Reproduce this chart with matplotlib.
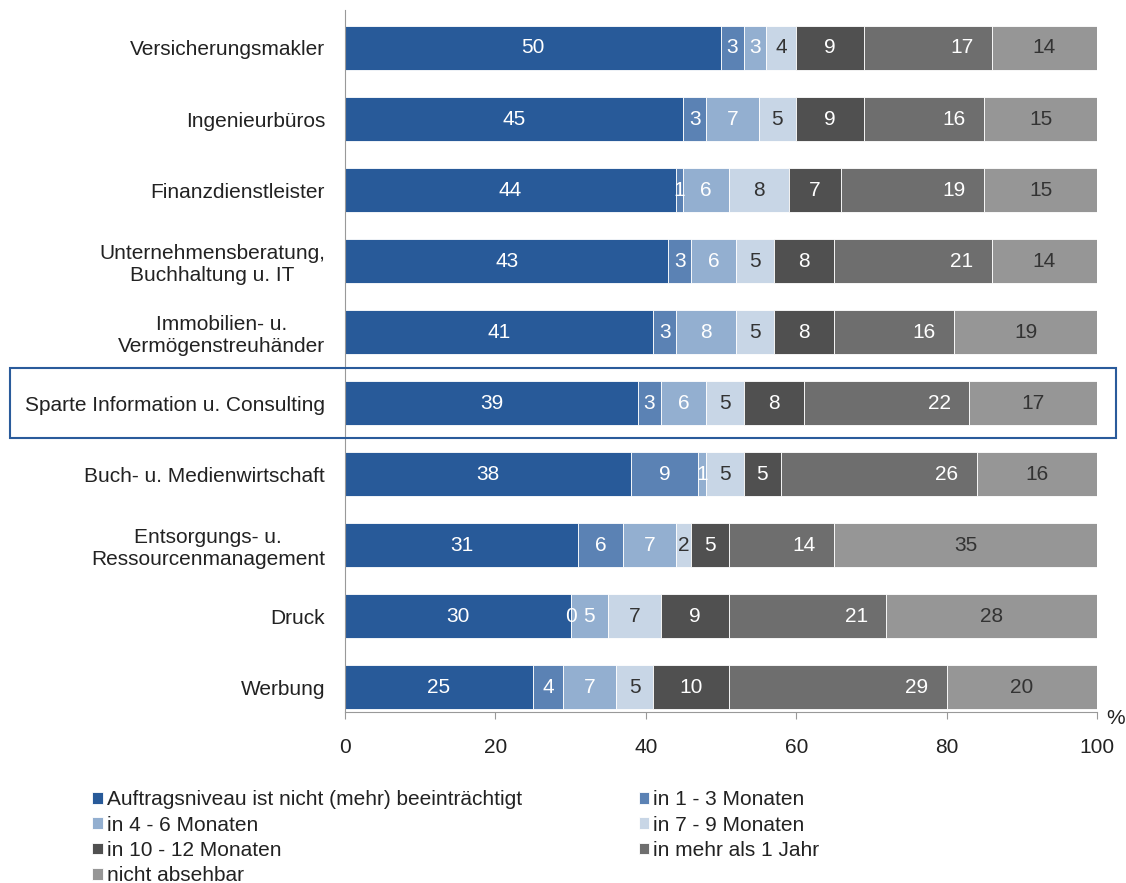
import matplotlib.pyplot as plt
from matplotlib.patches import Rectangle

# Daten ------------------------------------------------
kategorien = ['Versicherungsmakler', 'Ingenieurbüros', 'Finanzdienstleister',
              'Unternehmensberatung,\nBuchhaltung u. IT',
              'Immobilien- u.\nVermögenstreuhänder',
              'Sparte Information u. Consulting',
              'Buch- u. Medienwirtschaft',
              'Entsorgungs- u.\nRessourcenmanagement',
              'Druck', 'Werbung']

nicht_beeintraechtigt = [50, 45, 44, 43, 41, 39, 38, 31, 30, 25]
m1_3 = [3, 3, 1, 3, 3, 3, 9, 6, 0, 4]
m4_6 = [3, 7, 6, 6, 8, 6, 1, 7, 5, 7]
m7_9 = [4, 5, 8, 5, 5, 5, 5, 2, 7, 5]
m10_12 = [9, 9, 7, 8, 8, 8, 5, 5, 9, 10]
mehr_1_jahr = [17, 16, 19, 21, 16, 22, 26, 14, 21, 29]
nicht_absehbar = [14, 15, 15, 14, 19, 17, 16, 35, 28, 20]

serien = ['Auftragsniveau ist nicht (mehr) beeinträchtigt', 'in 1 - 3 Monaten',
          'in 4 - 6 Monaten', 'in 7 - 9 Monaten', 'in 10 - 12 Monaten',
          'in mehr als 1 Jahr', 'nicht absehbar']
werte = [nicht_beeintraechtigt, m1_3, m4_6, m7_9, m10_12, mehr_1_jahr, nicht_absehbar]
farben = ['#285A99', '#5B82B4', '#93AFD0', '#C8D6E6', '#505050', '#6E6E6E', '#969696']
textfarben = ['white', 'white', 'white', '#333333', 'white', 'white', '#333333']

plt.rcParams['font.family'] = ['Liberation Sans', 'DejaVu Sans']

# Figur ------------------------------------------------
fig = plt.figure(figsize=(11.26, 8.83), dpi=100)
ax = fig.add_axes([345/1126, 1-712/883, (1097-345)/1126, (712-10)/883])

y = list(range(len(kategorien)))
links = [0]*len(kategorien)
for s, (name, vals) in enumerate(zip(serien, werte)):
    ax.barh(y, vals, left=links, height=0.62, color=farben[s],
            edgecolor='white', linewidth=0.6, label=name)
    for i, v in enumerate(vals):
        xpos = links[i] + v/2
        if s == 5:
            xpos = links[i] + v - 4
        ax.text(xpos, i, str(v), ha='center', va='center',
                fontsize=15, color=textfarben[s])
    links = [a + b for a, b in zip(links, vals)]

ax.set_xlim(0, 100)
ax.set_ylim(9.35, -0.535)
ax.set_xticks([0, 20, 40, 60, 80, 100])
ax.set_yticks(y)
ax.set_yticklabels(kategorien, fontsize=15, multialignment='center', color='#222222')
ax.tick_params(axis='y', length=0, pad=14.4)
ax.tick_params(axis='x', labelsize=15, length=5, color='#999999', direction='out',
               pad=14, labelcolor='#222222')
for sp in ['top', 'right']:
    ax.spines[sp].set_visible(False)
ax.spines['left'].set_color('#999999')
ax.spines['bottom'].set_color('#999999')

fig.text(1106/1126, 1-718/883, '%', fontsize=15, ha='left', va='center', color='#222222')

# Rahmen um Sparte
fig.patches.append(Rectangle((10/1126, 1-438/883), (1116-10)/1126, 70/883,
                             transform=fig.transFigure, fill=False,
                             edgecolor='#2A5B9B', linewidth=1.5))

# Legende
handles, labels = ax.get_legend_handles_labels()
order = [0, 2, 4, 6, 1, 3, 5]
leg = fig.legend([handles[k] for k in order], [labels[k] for k in order],
                 loc='upper left', bbox_to_anchor=(84/1126, 1-782/883), ncol=2,
                 frameon=False, fontsize=15, handlelength=0.5, handleheight=0.5,
                 handletextpad=0.2, columnspacing=5.6, labelspacing=0.3,
                 borderaxespad=0)
for t in leg.get_texts():
    t.set_color('#222222')

plt.savefig('out.png', dpi=100)
